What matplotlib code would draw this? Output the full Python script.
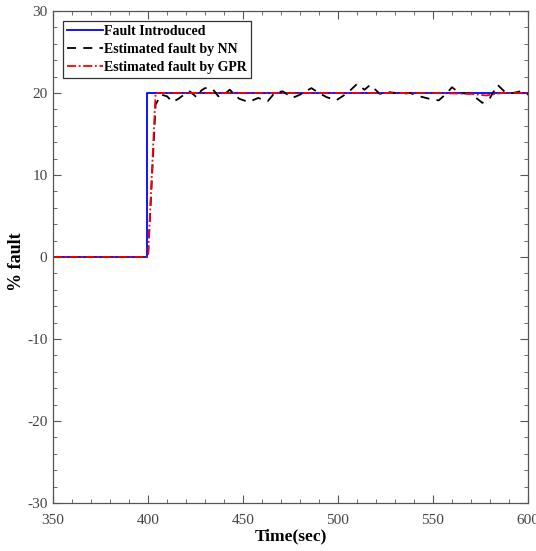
import matplotlib
matplotlib.use("Agg")
import matplotlib.pyplot as plt
from matplotlib.ticker import MultipleLocator

# Fault introduced (step)
fault_time = [350, 399.5, 399.5, 600]
fault_val = [0, 0, 20, 20]

# NN estimate
nn_time = [350, 400, 404, 407, 410, 413, 416, 419, 422, 426, 428, 430, 434, 437, 440,
           443, 448, 453, 458, 463, 467, 471, 476, 480, 486, 490, 494, 499, 505, 510,
           514, 517, 522, 527, 534, 538, 543, 548, 553, 557, 560, 564, 570, 576, 580,
           584, 588, 592, 596, 600]
nn_val = [0, 0, 18.6, 19.8, 19.6, 18.9, 19.3, 19.8, 20.2, 19.4, 20.3, 20.6, 20.5, 19.6, 19.8,
          20.4, 19.3, 18.9, 19.4, 19.0, 20.1, 20.2, 19.4, 19.8, 20.6, 20.0, 19.5, 19.1, 20.0, 21.1,
          20.4, 21.0, 19.9, 20.1, 19.9, 20.0, 19.6, 19.3, 19.1, 19.9, 20.7, 20.0, 19.9, 18.8, 19.4,
          21.0, 20.1, 20.0, 20.2, 19.8]

# GPR estimate
gpr_time = [350, 400, 404, 420, 450, 500, 550, 570, 578, 586, 600]
gpr_val = [0, 0, 20, 20, 20, 20, 20, 19.9, 19.7, 20, 20]

plt.rcParams['font.family'] = ['Liberation Serif', 'DejaVu Serif']
plt.rcParams['axes.unicode_minus'] = False

fig = plt.figure(figsize=(5.36, 5.51), dpi=100)
ax = fig.add_axes([0.0989, 0.0871, 0.8861, 0.8929])

ax.plot(fault_time, fault_val, color='#0000ff', lw=1.3, label='Fault Introduced')
ax.plot(nn_time, nn_val, color='black', lw=1.3, ls=(0, (5, 4)), label='Estimated fault by NN')
ax.plot(gpr_time, gpr_val, color='#ff0000', lw=1.3, ls=(0, (5, 1.5, 1, 1.5)), label='Estimated fault by GPR')

ax.set_xlim(350, 600)
ax.set_ylim(-30, 30)
ax.xaxis.set_major_locator(MultipleLocator(50))
ax.xaxis.set_minor_locator(MultipleLocator(10))
ax.yaxis.set_major_locator(MultipleLocator(10))
ax.yaxis.set_minor_locator(MultipleLocator(2))
ax.tick_params(which='both', direction='in', top=True, right=True, colors='#555555',
               labelcolor='#444444', labelsize=11)
ax.tick_params(which='major', length=6)
ax.tick_params(which='minor', length=3)
ax.tick_params(axis='x', which='major', pad=8)
ax.tick_params(axis='y', which='major', pad=4)
for s in ax.spines.values():
    s.set_color('#555555')
    s.set_linewidth(0.9)

ax.set_xlabel('Time(sec)', fontsize=12.5, fontweight='bold', labelpad=1)
ax.set_ylabel('% fault', fontsize=13, fontweight='bold')
ax.yaxis.set_label_coords(-0.058, 0.49)

leg = ax.legend(loc='upper left', handlelength=2.6, handletextpad=0.1,
                borderaxespad=0.7, borderpad=0.3, labelspacing=0.35, fancybox=False,
                framealpha=1, edgecolor='#333333', prop={'weight': 'bold', 'size': 10})
leg.get_frame().set_linewidth(0.9)

fig.savefig('out.png', dpi=100)
